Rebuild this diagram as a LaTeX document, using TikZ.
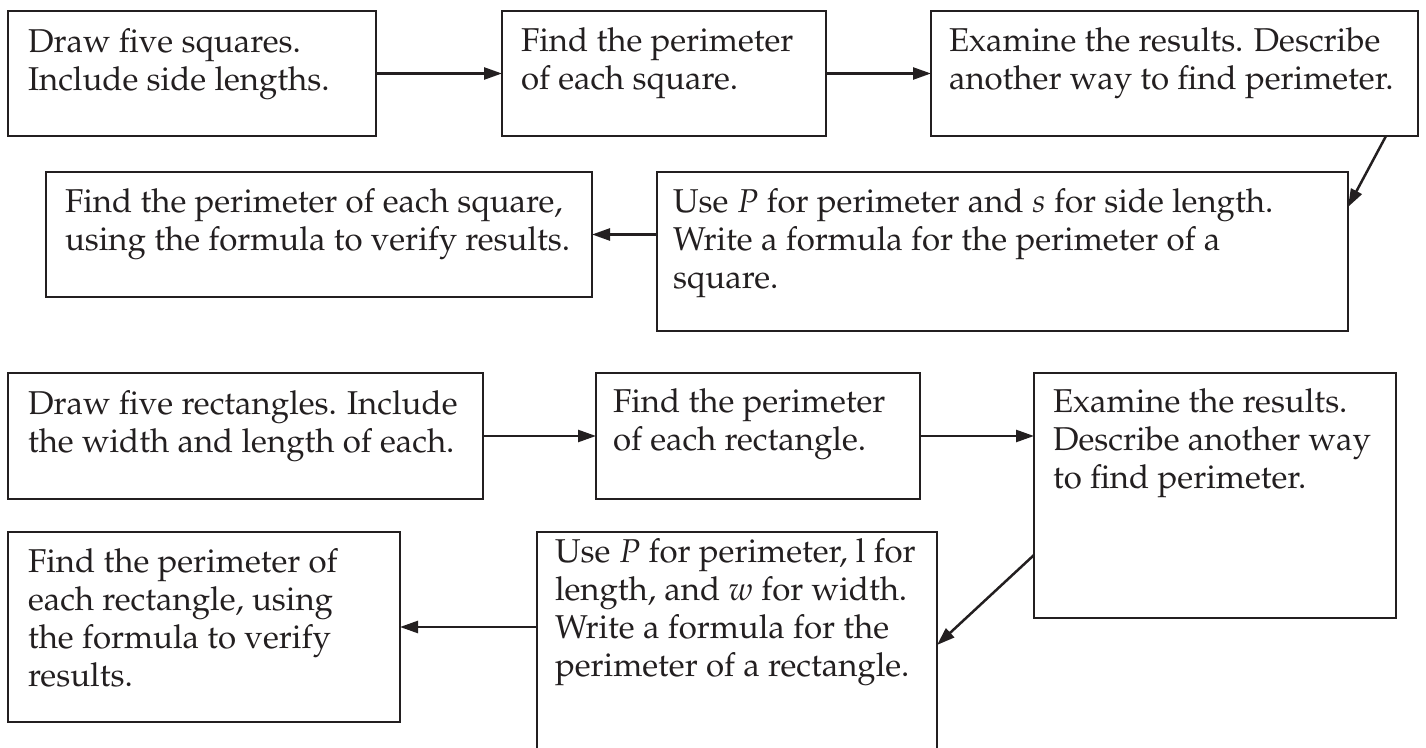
\documentclass[tikz,border=0pt]{standalone}
\usepackage[T1]{fontenc}
\usepackage{mathpazo}
\usetikzlibrary{arrows.meta,calc}
\definecolor{ink}{HTML}{231F20}
\tikzset{
  panel/.style={draw=ink, line width=1.4pt, inner sep=0pt, outer sep=0pt},
  words/.style={anchor=base west, inner sep=0pt, outer sep=0pt, text=ink,
                font=\fontsize{16.5}{19}\selectfont},
  flow/.style={draw=ink, line width=1.25pt, -{Triangle[length=9pt,width=6pt]}},
}
% a framed step: name, left, top, right, bottom (pixel-like units)
\newcommand\panelbox[5]{%
  \node[panel, minimum width={(#4-#2)*0.5pt}, minimum height={(#5-#3)*0.5pt}]
    (#1) at ({(#2+#4)/2},{(#3+#5)/2}) {};}
% text of a step, first baseline at the given point
\newcommand\panelwords[4]{%
  \node[words] (#1) at (#2,#3) {\parbox[t]{420pt}{#4}};}
\begin{document}
\begin{tikzpicture}[x=0.5pt,y=-0.5pt]
\useasboundingbox (0,0) rectangle (1426,748);
\clip (0,0) rectangle (1426,748);

% ---- squares ----
\panelbox{sqDraw}{8}{11}{376}{136}
\panelbox{sqFind}{502}{11}{826}{136}
\panelbox{sqExam}{931}{11}{1418}{136}
\panelbox{sqRule}{657}{172}{1348}{331}
\panelbox{sqCheck}{46}{172}{592}{297}

\panelwords{tSqDraw}{28}{53}{Draw five squares.\\Include side lengths.}
\panelwords{tSqFind}{521}{52}{Find the perimeter\\of each square.}
\panelwords{tSqExam}{949}{52}{Examine the results. Describe\\another way to find perimeter.}
\panelwords{tSqRule}{673}{213}{Use $P$ for perimeter and $s$ for side length.\\Write a formula for the perimeter of a\\square.}
\panelwords{tSqCheck}{65}{213}{Find the perimeter of each square,\\using the formula to verify results.}

\draw[flow] (sqDraw.east) -- (sqFind.west);
\draw[flow] (sqFind.east) -- (sqExam.west);
\draw[flow] ($(sqExam.south west)+(455,0)$) -- ($(sqRule.north east)+(0,35)$);
\draw[flow] (sqCheck.east -| sqRule.west) -- (sqCheck.east);

% ---- rectangles ----
\panelbox{rcDraw}{8}{373}{483}{499}
\panelbox{rcFind}{596}{373}{920}{499}
\panelbox{rcExam}{1034}{373}{1396}{618}
\panelbox{rcRule}{537}{532}{937}{780}
\panelbox{rcCheck}{8}{532}{400}{722}

\panelwords{tRcDraw}{28}{415}{Draw five rectangles. Include\\the width and length of each.}
\panelwords{tRcFind}{613}{413}{Find the perimeter\\of each rectangle.}
\panelwords{tRcExam}{1053}{413}{Examine the results.\\Describe another way\\to find perimeter.}
\panelwords{tRcRule}{555}{563}{Use $P$ for perimeter, l for\\length, and $w$ for width.\\Write a formula for the\\perimeter of a rectangle.}
\panelwords{tRcCheck}{28}{573}{Find the perimeter of\\each rectangle, using\\the formula to verify\\results.}

\draw[flow] (rcDraw.east) -- (rcFind.west);
\draw[flow] (rcFind.east) -- (rcFind.east -| rcExam.west);
\draw[flow] ($(rcExam.north west)+(0,182)$) -- ($(rcRule.north east)+(0,113)$);
\draw[flow] (rcCheck.east -| rcRule.west) -- (rcCheck.east);
\end{tikzpicture}
\end{document}
